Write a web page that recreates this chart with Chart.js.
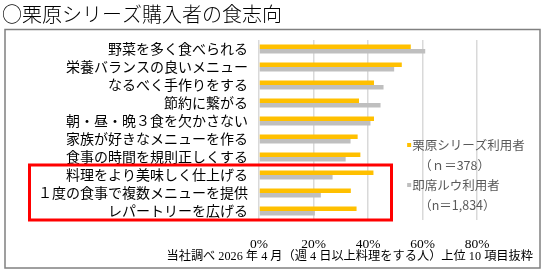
<!DOCTYPE html>
<html>
<head>
  <meta charset="utf-8">
  <script src="https://cdn.jsdelivr.net/npm/chart.js"></script>
  <style>
    body { margin: 0; background: #fff; }
  </style>
</head>
<body>
<canvas id="foodChart" width="544" height="274"></canvas>
<script>
const titleText = '○栗原シリーズ購入者の食志向';
const footText = '当社調べ 2026 年 4 月（週 4 日以上料理をする人）上位 10 項目抜粋';

const categories = [
  '野菜を多く食べられる',
  '栄養バランスの良いメニュー',
  'なるべく手作りをする',
  '節約に繋がる',
  '朝・昼・晩３食を欠かさない',
  '家族が好きなメニューを作る',
  '食事の時間を規則正しくする',
  '料理をより美味しく仕上げる',
  '１度の食事で複数メニューを提供',
  'レパートリーを広げる'
];
const seriesNames = ['栗原シリーズ利用者', '即席ルウ利用者'];
const seriesNotes = ['（ｎ＝378）', '（n＝1,834）'];
const kuriharaValues = [55.7, 52.4, 42.2, 36.7, 42.2, 36.2, 37.2, 42.0, 33.7, 35.8];
const rouxValues = [61.0, 49.6, 45.7, 44.6, 40.9, 33.6, 31.8, 27.0, 22.7, 20.5];
const xTicks = [0, 20, 40, 60, 80];
const highlightRows = [7, 9]; // first and last row in the red box

const jp = "'Noto Sans CJK JP', 'Noto Sans', sans-serif";

// frame, title, legend, red box and footnote
const extras = {
  id: 'extras',
  afterDraw(chart) {
    const c = chart.ctx;
    const y = chart.scales.y;
    const x = chart.scales.x;
    c.save();

    c.fillStyle = '#000';
    c.font = '300 20px ' + jp;
    c.textBaseline = 'middle';
    c.textAlign = 'left';
    c.fillText(titleText, 2, 14);

    c.strokeStyle = '#808080';
    c.lineWidth = 1.5;
    c.strokeRect(5, 29.5, 535, 238.5);

    // legend
    const lx = x.getPixelForValue(54);
    const colors = chart.data.datasets.map(d => d.backgroundColor);
    c.font = '12.5px ' + jp;
    seriesNames.forEach((name, i) => {
      const ty = 145 + i * 40;
      c.fillStyle = colors[i];
      c.fillRect(lx + 1, ty - 2, 4, 4);
      c.fillStyle = '#595959';
      c.fillText(name, lx + 6, ty);
      c.fillText(seriesNotes[i], lx + 13, ty + 20);
    });

    // red highlight box
    const band = (y.getPixelForValue(1) - y.getPixelForValue(0));
    const top = y.getPixelForValue(highlightRows[0]) - band / 2 - 1;
    const bottom = y.getPixelForValue(highlightRows[1]) + band / 2;
    c.strokeStyle = '#ff0000';
    c.lineWidth = 3;
    c.strokeRect(29.5, top, 362, bottom - top);

    // footnote, sized to span the same width as the original
    c.fillStyle = '#000';
    c.font = "12px 'Liberation Serif', " + jp;
    const w = c.measureText(footText).width;
    c.font = (12 * 367 / w).toFixed(2) + "px 'Liberation Serif', " + jp;
    c.textAlign = 'right';
    c.fillText(footText, 533, 257);
    c.restore();
  }
};

new Chart(document.getElementById('foodChart'), {
  type: 'bar',
  data: {
    labels: categories,
    datasets: [
      {
        label: seriesNames[0],
        data: kuriharaValues,
        backgroundColor: '#ffc000',
        categoryPercentage: 0.5,
        barPercentage: 1.0
      },
      {
        label: seriesNames[1],
        data: rouxValues,
        backgroundColor: '#bfbfbf',
        categoryPercentage: 0.5,
        barPercentage: 1.0
      }
    ]
  },
  options: {
    indexAxis: 'y',
    responsive: false,
    animation: false,
    layout: { padding: { top: 40, right: 67, bottom: 24, left: 0 } },
    scales: {
      x: {
        min: xTicks[0],
        max: xTicks[xTicks.length - 1],
        afterFit(s) { s.height = 30; },
        afterBuildTicks(s) { s.ticks = xTicks.map(v => ({ value: v })); },
        ticks: {
          callback: v => v + '%',
          color: '#000',
          padding: 16,
          font: { family: 'Liberation Serif', size: 13.5 }
        },
        grid: { color: '#d9d9d9', lineWidth: 1.5, drawTicks: false },
        border: { display: false }
      },
      y: {
        afterFit(s) { s.width = 259; },
        ticks: {
          autoSkip: false,
          color: '#000',
          padding: 11,
          font: { family: 'Noto Sans CJK JP', size: 14 }
        },
        grid: { display: false, drawTicks: false },
        border: { display: false }
      }
    },
    plugins: {
      legend: { display: false },
      tooltip: { enabled: false }
    }
  },
  plugins: [extras]
});
</script>
</body>
</html>
